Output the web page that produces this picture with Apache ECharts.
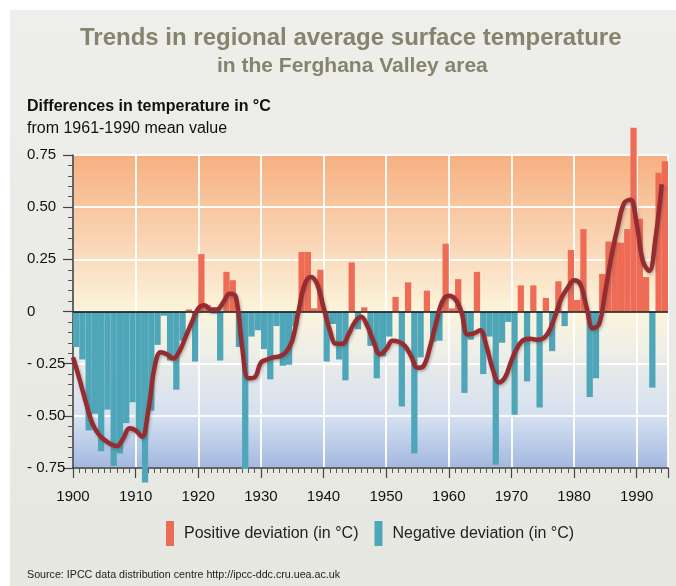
<!DOCTYPE html>
<html><head><meta charset="utf-8">
<script src="https://cdn.jsdelivr.net/npm/echarts@6/dist/echarts.min.js"></script>
<style>html,body{margin:0;padding:0;background:#fff}#c{width:676px;height:586px}</style>
</head><body><div id="c"></div>
<script>
const years = ['1900','1901','1902','1903','1904','1905','1906','1907','1908','1909',
'1910','1911','1912','1913','1914','1915','1916','1917','1918','1919',
'1920','1921','1922','1923','1924','1925','1926','1927','1928','1929',
'1930','1931','1932','1933','1934','1935','1936','1937','1938','1939',
'1940','1941','1942','1943','1944','1945','1946','1947','1948','1949',
'1950','1951','1952','1953','1954','1955','1956','1957','1958','1959',
'1960','1961','1962','1963','1964','1965','1966','1967','1968','1969',
'1970','1971','1972','1973','1974','1975','1976','1977','1978','1979',
'1980','1981','1982','1983','1984','1985','1986','1987','1988','1989',
'1990','1991','1992','1993','1994'];
const deviations = [-0.17,-0.23,-0.57,-0.49,-0.67,-0.47,-0.74,-0.68,-0.535,-0.435,
-0.585,-0.82,-0.475,-0.16,-0.02,-0.235,-0.375,-0.14,0.01,-0.24,
0.275,0.03,-0.01,-0.235,0.19,0.15,-0.17,-0.755,-0.12,-0.09,
-0.18,-0.325,-0.07,-0.26,-0.255,-0.07,0.285,0.285,0.015,0.2,
-0.24,-0.06,-0.23,-0.33,0.235,-0.085,0.02,-0.165,-0.32,-0.215,
-0.12,0.07,-0.455,0.14,-0.68,-0.22,0.1,-0.145,-0.14,0.325,
0.015,0.155,-0.39,-0.135,0.19,-0.3,-0.12,-0.735,-0.15,-0.05,
-0.495,0.125,-0.335,0.125,-0.46,0.065,-0.19,0.145,-0.07,0.295,
0.055,0.395,-0.41,-0.32,0.18,0.335,0.335,0.33,0.395,0.88,
0.445,0.165,-0.365,0.665,0.72];
const trendYears = [1900,1901,1902,1903,1904,1905,1906,1907,1908,1909,
1910,1911,1912,1913,1914,1915,1916,1917,1918,1919,
1920,1921,1922,1923,1924,1925,1926,1927,1928,1929,
1930,1931,1932,1933,1934,1935,1936,1937,1938,1939,
1940,1941,1942,1943,1944,1945,1946,1947,1948,1949,
1950,1951,1952,1953,1954,1955,1956,1957,1958,1959,
1960,1961,1962,1963,1964,1965,1966,1967,1968,1969,
1970,1971,1972,1973,1974,1975,1976,1977,1978,1979,
1980,1981,1982,1983,1984,1985,1986,1987,1988,1989,
1990,1991,1992,1993,1994];
const trendValues = [-0.22,-0.32,-0.43,-0.53,-0.585,-0.615,-0.635,-0.645,-0.61,-0.56,
-0.57,-0.6,-0.48,-0.27,-0.195,-0.205,-0.225,-0.19,-0.12,-0.05,
0.015,0.03,0.01,0.01,0.045,0.085,0.07,-0.17,-0.32,-0.315,
-0.245,-0.23,-0.22,-0.215,-0.195,-0.14,0.0,0.13,0.165,0.13,
0.02,-0.09,-0.155,-0.155,-0.11,-0.05,-0.025,-0.07,-0.145,-0.205,
-0.18,-0.14,-0.145,-0.165,-0.215,-0.27,-0.26,-0.17,-0.05,0.05,
0.075,0.06,0.0,-0.11,-0.105,-0.09,-0.165,-0.275,-0.34,-0.315,
-0.235,-0.17,-0.135,-0.13,-0.135,-0.13,-0.095,-0.02,0.065,0.115,
0.15,0.13,0.02,-0.08,-0.06,0.10,0.27,0.41,0.52,0.535,
0.42,0.24,0.195,0.35,0.61];
const xTickValues = [1900,1910,1920,1930,1940,1950,1960,1970,1980,1990];
const xTickLabels = ['1900','1910','1920','1930','1940','1950','1960','1970','1980','1990'];
const yTickValues = [-0.75,-0.5,-0.25,0,0.25,0.5,0.75];
const yTickLabels = ['- 0.75','- 0.50','- 0.25','0','0.25','0.50','0.75'];
const seriesNames = ['Positive deviation (in °C)','Negative deviation (in °C)'];

const FONT = "'Liberation Sans Narrow','Arial Narrow','Liberation Sans',sans-serif";
const positive = deviations.map(v => v > 0 ? v : '-');
const negative = deviations.map(v => v < 0 ? v : '-');
const trend = trendYears.map((y, i) => [y, trendValues[i]]);

const chart = echarts.init(document.getElementById('c'), null, {renderer: 'canvas'});
chart.setOption({
  animation: false,
  backgroundColor: '#ffffff',
  graphic: [{
    type: 'rect', z: -10, silent: true,
    shape: {x: 10, y: 10, width: 666, height: 576},
    style: {fill: new echarts.graphic.LinearGradient(0, 0, 0, 1, [
      {offset: 0, color: '#EEEEEA'}, {offset: 1, color: '#E7E7E2'}])}
  }],
  title: [
    {text: 'Trends in regional average surface temperature', left: 75, top: 21,
     textStyle: {fontFamily: FONT, fontSize: 24, fontWeight: 'bold', color: '#86836E'}},
    {text: 'in the Ferghana Valley area', left: 212, top: 51,
     textStyle: {fontFamily: FONT, fontSize: 21, fontWeight: 'bold', color: '#86836E'}},
    {text: 'Differences in temperature in °C', left: 22, top: 94,
     textStyle: {fontFamily: FONT, fontSize: 16, fontWeight: 'bold', color: '#111'}},
    {text: 'from 1961-1990 mean value', left: 22, top: 116,
     textStyle: {fontFamily: FONT, fontSize: 16, fontWeight: 'normal', color: '#111'}},
    {text: 'Source: IPCC data distribution centre http://ipcc-ddc.cru.uea.ac.uk', left: 22, top: 565,
     textStyle: {fontFamily: FONT, fontSize: 10.7, fontWeight: 'normal', color: '#222'}}
  ],
  legend: {
    data: seriesNames, left: 166, top: 521, itemWidth: 8, itemHeight: 25, itemGap: 16,
    icon: 'rect', padding: 0,
    textStyle: {fontFamily: FONT, fontSize: 16, color: '#222', padding: [0, 0, 0, 5]}
  },
  grid: {
    left: 73, right: 8, top: 155, bottom: 118, show: true, borderWidth: 0,
    backgroundColor: new echarts.graphic.LinearGradient(0, 0, 0, 1, [
      {offset: 0, color: '#F6B080'},
      {offset: 0.33, color: '#FADCBF'},
      {offset: 0.5, color: '#FCF4DB'},
      {offset: 0.62, color: '#EFEFE7'},
      {offset: 0.70, color: '#E4E8EA'},
      {offset: 0.84, color: '#D4E0F1'},
      {offset: 1, color: '#A3B8E0'}])
  },
  xAxis: [
    {type: 'category', data: years, boundaryGap: true, show: false},
    {type: 'value', min: 1900, max: 1995, interval: 10, position: 'bottom',
     axisLine: {show: true, onZero: false, lineStyle: {color: '#333', width: 1.5}},
     axisTick: {show: true, length: 10, lineStyle: {color: '#444', width: 1.2}},
     minorTick: {show: true, splitNumber: 10, length: 5, lineStyle: {color: '#555', width: 1}},
     splitLine: {show: true, lineStyle: {color: 'rgba(255,255,255,0.9)', width: 2}},
     axisLabel: {margin: 21, fontFamily: FONT, fontSize: 15, color: '#111',
       formatter: v => { const i = xTickValues.indexOf(Math.round(v)); return i >= 0 ? xTickLabels[i] : ''; }}}
  ],
  yAxis: {
    type: 'value', min: -0.75, max: 0.75, interval: 0.25,
    axisLine: {show: true, lineStyle: {color: '#333', width: 1.5}},
    axisTick: {show: true, length: 10, lineStyle: {color: '#444', width: 1.2}},
    minorTick: {show: true, splitNumber: 5, length: 5, lineStyle: {color: '#555', width: 1}},
    splitLine: {show: true, lineStyle: {color: 'rgba(255,255,255,0.9)', width: 2}},
    axisLabel: {align: 'left', margin: 46, fontFamily: FONT, fontSize: 15, color: '#111',
      formatter: v => { const i = yTickValues.findIndex(t => Math.abs(t - v) < 1e-6); return i >= 0 ? yTickLabels[i] : ''; }}
  },
  series: [
    {name: seriesNames[0], type: 'bar', xAxisIndex: 0, data: positive, barGap: '-100%', barCategoryGap: '0%',
     clip: false, itemStyle: {color: '#EE6B55'}},
    {name: seriesNames[1], type: 'bar', xAxisIndex: 0, data: negative, barGap: '-100%', barCategoryGap: '0%',
     clip: false, itemStyle: {color: '#4FA6B8'},
     markLine: {silent: true, symbol: 'none', label: {show: false}, z: 5,
       lineStyle: {color: '#111', width: 1.5, type: 'solid'}, data: [{yAxis: 0}]}},
    {name: 'trend', type: 'line', xAxisIndex: 1, data: trend, smooth: 0.4, showSymbol: false, z: 6,
     lineStyle: {color: '#962B30', width: 4.5, shadowColor: 'rgba(80,80,80,0.45)', shadowBlur: 3, shadowOffsetX: 1, shadowOffsetY: 1.5}}
  ]
});
</script></body></html>
